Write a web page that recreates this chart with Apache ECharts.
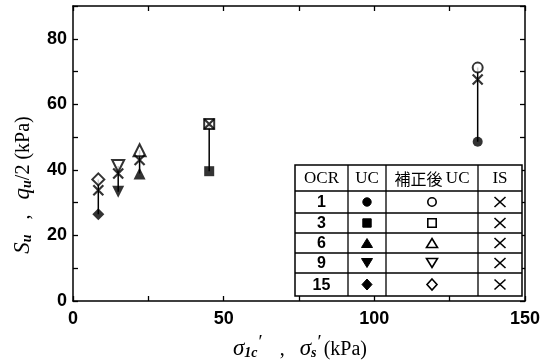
<!DOCTYPE html>
<html>
<head>
<meta charset="utf-8">
<script src="https://cdn.jsdelivr.net/npm/echarts@6/dist/echarts.min.js"></script>
<style>
  html, body { margin: 0; padding: 0; background: #fff; }
  #chart { width: 543px; height: 364px; }
</style>
</head>
<body>
<div id="chart"></div>
<script>
// Undrained strength vs. consolidation / in-situ stress, grouped by OCR
const ocrLabels = ['1', '3', '6', '9', '15'];
const sigmaValues = [134.3, 45.2, 22.1, 15.0, 8.4];        // σ1c', σs' (kPa)
const ucValues = [48.6, 39.6, 38.9, 33.3, 26.5];            // UC  qu/2 (kPa)
const correctedUcValues = [71.2, 54.0, 46.0, 41.2, 37.1];   // corrected UC (kPa)
const isValues = [67.6, 54.0, 43.0, 38.9, 33.8];            // IS  Su (kPa)

const xTicks = [0, 50, 100, 150];
const yTicks = [0, 20, 40, 60, 80];

// marker shapes per OCR row
const shapes = ['circle', 'rect', 'triangle', 'triangle', 'diamond'];
const rotations = [0, 0, 0, 180, 0];
const filledSizes = [10, 10, 12, 12, 12];
const hollowSizes = [10, 10, 12, 12, 12];
const crossPath = 'path://M0,0L10,10M0,10L10,0';

const INK = '#000';
const sansFont = '"Liberation Sans", Arial, sans-serif';
const serifFont = '"Liberation Serif", "Times New Roman", serif';
const cjkFont = '"Noto Sans CJK JP", sans-serif';

const series = [];
ocrLabels.forEach((ocr, i) => {
  series.push({
    type: 'line',
    name: 'link' + ocr,
    data: [[sigmaValues[i], ucValues[i]], [sigmaValues[i], correctedUcValues[i]]],
    showSymbol: false,
    symbol: 'none',
    lineStyle: { color: INK, width: 1.5 },
    z: 2,
    silent: true
  });
  series.push({
    type: 'scatter',
    name: 'UC ' + ocr,
    data: [[sigmaValues[i], ucValues[i]]],
    symbol: shapes[i],
    symbolRotate: rotations[i],
    symbolSize: filledSizes[i],
    itemStyle: { color: INK },
    z: 4
  });
  series.push({
    type: 'scatter',
    name: '補正後 UC ' + ocr,
    data: [[sigmaValues[i], correctedUcValues[i]]],
    symbol: shapes[i],
    symbolRotate: rotations[i],
    symbolSize: hollowSizes[i],
    itemStyle: { color: '#fff', borderColor: INK, borderWidth: 2 },
    z: 4
  });
  series.push({
    type: 'scatter',
    name: 'IS ' + ocr,
    data: [[sigmaValues[i], isValues[i]]],
    symbol: crossPath,
    symbolSize: 10,
    itemStyle: { color: 'none', borderColor: INK, borderWidth: 2.2 },
    z: 5
  });
});

// Legend table
const tableLeft = 295, tableRight = 522;
const colEdges = [295, 348, 386, 478, 522];
const rowEdges = [165, 191, 213, 233, 253, 273, 296];
const colCenter = c => (colEdges[c] + colEdges[c + 1]) / 2;
const rowCenter = r => (rowEdges[r] + rowEdges[r + 1]) / 2;

const table = [];
table.push({
  type: 'rect',
  shape: { x: tableLeft, y: rowEdges[0], width: tableRight - tableLeft, height: rowEdges[6] - rowEdges[0] },
  style: { fill: '#fff', stroke: INK, lineWidth: 1.5 },
  z: 10
});
colEdges.slice(1, 4).forEach(x => table.push({
  type: 'line', shape: { x1: x, y1: rowEdges[0], x2: x, y2: rowEdges[6] },
  style: { stroke: INK, lineWidth: 1.3 }, z: 11
}));
rowEdges.slice(1, 6).forEach(y => table.push({
  type: 'line', shape: { x1: tableLeft, y1: y, x2: tableRight, y2: y },
  style: { stroke: INK, lineWidth: 1.3 }, z: 11
}));

// header
const headerText = (text, c, font) => ({
  type: 'text', x: colCenter(c), y: rowCenter(0) + 1, z: 12,
  style: { text, font, fill: INK, align: 'center', verticalAlign: 'middle' }
});
table.push(headerText('OCR', 0, '17px ' + serifFont));
table.push(headerText('UC', 1, '17px ' + serifFont));
table.push({
  type: 'text', x: colCenter(2), y: rowCenter(0) + 1, z: 12,
  style: {
    text: '{j|補正後} {e|UC}', align: 'center', verticalAlign: 'middle',
    rich: {
      j: { fontFamily: cjkFont, fontSize: 16, fill: INK },
      e: { fontFamily: serifFont, fontSize: 17, fill: INK }
    }
  }
});
table.push(headerText('IS', 3, '17px ' + serifFont));

function legendShape(kind, cx, cy, filled, rot) {
  const style = filled
    ? { fill: INK, stroke: INK, lineWidth: 1 }
    : { fill: '#fff', stroke: INK, lineWidth: 1.6 };
  const s = 4.5;
  if (kind === 'circle') return { type: 'circle', shape: { cx, cy, r: 4.2 }, style, z: 12 };
  if (kind === 'rect') return { type: 'rect', shape: { x: cx - 4.2, y: cy - 4.2, width: 8.4, height: 8.4 }, style, z: 12 };
  if (kind === 'diamond') return { type: 'polygon', shape: { points: [[cx, cy - 5.5], [cx + 5, cy], [cx, cy + 5.5], [cx - 5, cy]] }, style, z: 12 };
  // triangle, up or down
  const d = rot ? -1 : 1;
  return { type: 'polygon', shape: { points: [[cx, cy - d * s], [cx + 5.5, cy + d * s], [cx - 5.5, cy + d * s]] }, style, z: 12 };
}

ocrLabels.forEach((ocr, i) => {
  const cy = rowCenter(i + 1);
  table.push({
    type: 'text', x: colCenter(0), y: cy + 1, z: 12,
    style: { text: ocr, font: 'bold 16px ' + sansFont, fill: INK, align: 'center', verticalAlign: 'middle' }
  });
  table.push(legendShape(shapes[i], colCenter(1), cy, true, rotations[i]));
  table.push(legendShape(shapes[i], colCenter(2), cy, false, rotations[i]));
  const cx = colCenter(3);
  table.push({
    type: 'polyline', shape: { points: [[cx - 5.5, cy - 5], [cx + 5.5, cy + 5]] },
    style: { stroke: INK, lineWidth: 1.6 }, z: 12
  });
  table.push({
    type: 'polyline', shape: { points: [[cx - 5.5, cy + 5], [cx + 5.5, cy - 5]] },
    style: { stroke: INK, lineWidth: 1.6 }, z: 12
  });
});

// axis titles
const titleRich = {
  s: { fontFamily: serifFont, fontStyle: 'italic', fontSize: 23, fill: INK, lineHeight: 26, verticalAlign: 'bottom' },
  sub: { fontFamily: serifFont, fontStyle: 'italic', fontWeight: 'bold', fontSize: 14, fill: INK, lineHeight: 26, verticalAlign: 'bottom', padding: [9, 0, 0, 0] },
  p: { fontFamily: serifFont, fontSize: 19, fill: INK, lineHeight: 26, verticalAlign: 'top', padding: [0, 2, 0, 1] },
  t: { fontFamily: serifFont, fontSize: 20, fill: INK, lineHeight: 26, verticalAlign: 'bottom' }
};
table.push({
  type: 'text', x: 300, y: 347, z: 12,
  style: {
    text: "{s|σ}{sub|1c}{p|′}{t|   ,   }{s|σ}{sub|s}{p|′}{t|(kPa)}",
    align: 'center', verticalAlign: 'middle',
    rich: titleRich
  }
});
table.push({
  type: 'text', x: 21, y: 185, rotation: Math.PI / 2, z: 12,
  style: {
    text: "{s|S}{sub|u}{t|   ,   }{s|q}{sub|u}{t|/2 (kPa)}",
    align: 'center', verticalAlign: 'middle',
    rich: titleRich
  }
});

const axisLine = { show: true, onZero: false, lineStyle: { color: INK, width: 1.5 } };
const tickStyle = { show: true, inside: true, length: 5, lineStyle: { color: INK, width: 1.3 } };
const labelStyle = { color: INK, fontFamily: sansFont, fontWeight: 'bold', fontSize: 18 };

const chart = echarts.init(document.getElementById('chart'), null, { renderer: 'canvas' });
chart.setOption({
  animation: false,
  backgroundColor: '#fff',
  grid: { left: 73, right: 17, top: 6, bottom: 63, containLabel: false },
  xAxis: [
    {
      type: 'value', min: 0, max: 150, interval: 25, position: 'bottom',
      axisLine, axisTick: tickStyle, splitLine: { show: false },
      axisLabel: Object.assign({}, labelStyle, {
        margin: 9,
        formatter: v => (xTicks.indexOf(v) >= 0 ? String(v) : '')
      })
    },
    {
      type: 'value', min: 0, max: 150, interval: 25, position: 'top',
      axisLine, axisTick: tickStyle, splitLine: { show: false }, axisLabel: { show: false }
    }
  ],
  yAxis: [
    {
      type: 'value', min: 0, max: 90, interval: 10, position: 'left',
      axisLine, axisTick: tickStyle, splitLine: { show: false },
      axisLabel: Object.assign({}, labelStyle, {
        margin: 6,
        formatter: v => (yTicks.indexOf(v) >= 0 ? String(v) : '')
      })
    },
    {
      type: 'value', min: 0, max: 90, interval: 10, position: 'right',
      axisLine, axisTick: tickStyle, splitLine: { show: false }, axisLabel: { show: false }
    }
  ],
  series,
  graphic: table
});
</script>
</body>
</html>
